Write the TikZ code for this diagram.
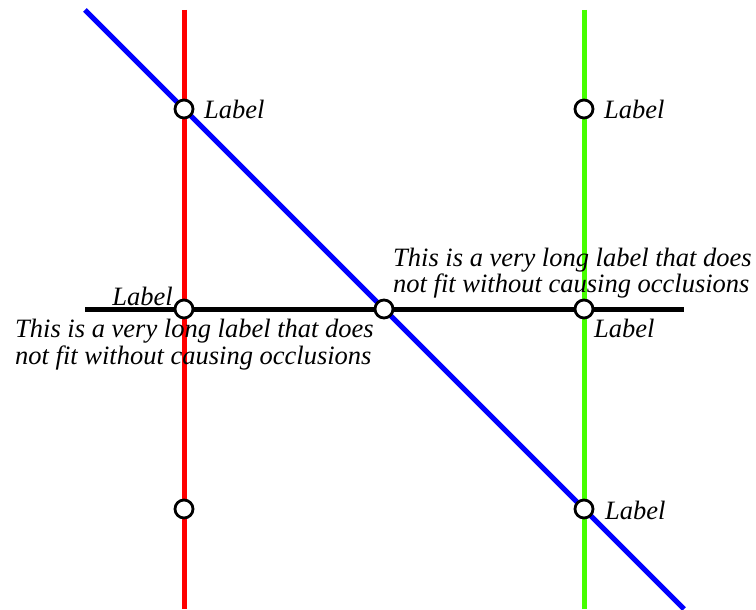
\documentclass[tikz,border=0pt]{standalone}
\usepackage{fontspec}
\setmainfont{Liberation Serif}
\definecolor{lgreen}{RGB}{70,255,0}
\begin{document}
\begin{tikzpicture}[x=1bp,y=-1bp,
  stn/.style={circle,draw=black,fill=white,line width=2.8bp,minimum size=18bp,inner sep=0pt},
  lbl/.style={font=\fontsize{26.6}{27}\selectfont\itshape,inner sep=0pt},
  track/.style={line width=5bp}]
\useasboundingbox (0,0) rectangle (756,610);
\coordinate (rt) at (184,10);
\coordinate (rb) at (184,609);
\coordinate (gt) at (584,10);
\coordinate (gb) at (584,609);
\coordinate (bt) at (85,10);
\coordinate (bb) at (684,609);
\coordinate (kl) at (85,309);
\coordinate (kr) at (684,309);
\draw[track,red] (rt) -- (rb);
\draw[track,lgreen] (gt) -- (gb);
\draw[track,blue] (bt) -- (bb);
\draw[track,black] (kl) -- (kr);
\node[stn] (a1) at (184,109) {};
\node[stn] (a2) at (584,109) {};
\node[stn] (b1) at (184,309) {};
\node[stn] (b2) at (384,309) {};
\node[stn] (b3) at (584,309) {};
\node[stn] (c1) at (184,509) {};
\node[stn] (c2) at (584,509) {};
\node[lbl,anchor=base west] (la1) at ([shift={(20,10)}]a1.center) {Label};
\node[lbl,anchor=base west] (la2) at ([shift={(20,10)}]a2.center) {Label};
\node[lbl,anchor=base east] (lb1) at ([shift={(-11,-3.5)}]b1.center) {Label};
\node[lbl,anchor=north west,align=left] (lb1l) at ([shift={(-169,10)}]b1.center) {This is a very long label that does\\not fit without causing occlusions};
\node[lbl,anchor=north west,align=left] (lb2l) at ([shift={(9,-61.5)}]b2.center) {This is a very long label that does\\not fit without causing occlusions};
\node[lbl,anchor=base west] (lb3) at ([shift={(10,28)}]b3.center) {Label};
\node[lbl,anchor=base west] (lc2) at ([shift={(21,10)}]c2.center) {Label};
\end{tikzpicture}
\end{document}
